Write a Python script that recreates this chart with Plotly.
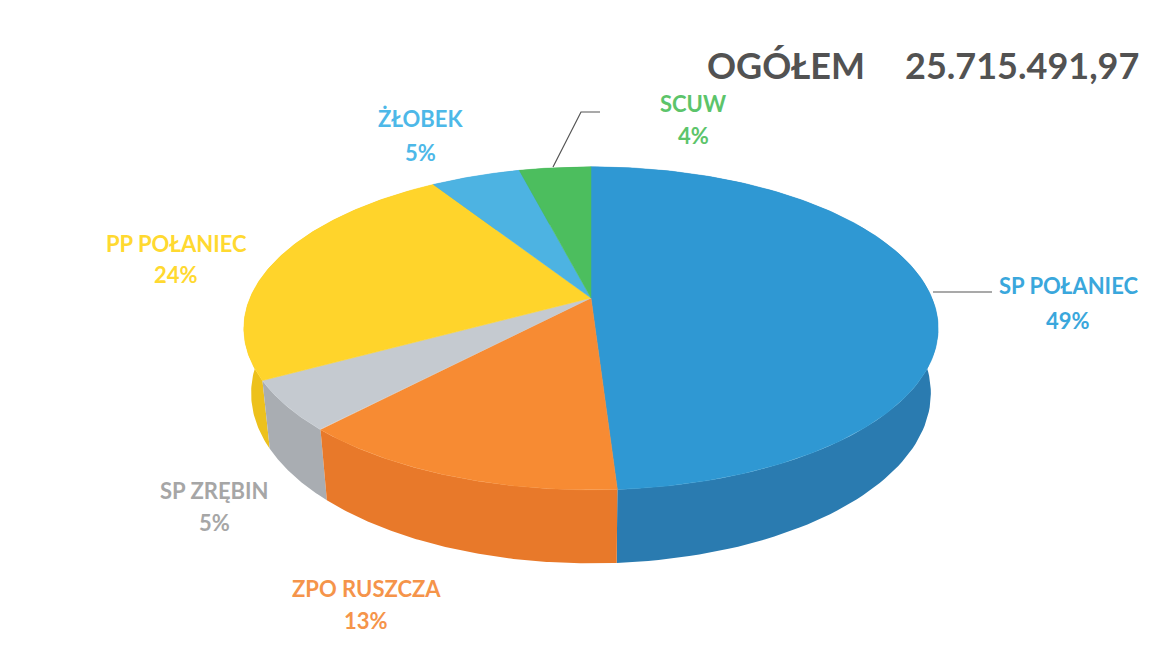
import numpy as np
import plotly.graph_objects as go

# ---- data ----
categories = ["SP POŁANIEC", "ZPO RUSZCZA", "SP ZRĘBIN", "PP POŁANIEC", "ŻŁOBEK", "SCUW"]
percents = [49, 13, 5, 24, 5, 4]
total_label = "OGÓŁEM"
total_value = "25.715.491,97"

# ---- styles ----
top_colors = ["#2F98D3", "#F78B33", "#C5CAD0", "#FFD42B", "#4DB3E2", "#4CBE5E"]
side_colors = ["#2A7BB0", "#E8792A", "#A9ADB2", "#EDC11C", "#3A98C6", "#3DA14E"]
text_colors = ["#3AA7DC", "#F5944A", "#A6A6A6", "#FFD930", "#4DB8E8", "#5CC46A"]
label_pos = [(1068, 285, 320), (366, 588, 620), (214, 490, 522),
             (176, 243, 274), (420, 118, 152), (693, 103, 135)]

W, H = 1157, 659
cx, cy = 591, 298          # screen position of pie centre (top face)
S = 341                    # radius scale in px
s_t, c_t = 0.457, 0.889    # sin/cos of tilt
dcam = 4.73                # camera distance
hgt = 0.215                # pie thickness


def proj(a, r, z):
    x = r * np.sin(a)
    y = -r * np.cos(a)
    w = y * c_t + z * s_t
    f = dcam / (dcam - w)
    return cx + S * x * f, cy + S * (y * s_t - z * c_t) * f


vals = np.array(percents, dtype=float)
cum = np.concatenate([[0], np.cumsum(vals)]) / vals.sum() * 2 * np.pi

fig = go.Figure()

# side walls, back to front
order = sorted(range(len(vals)), key=lambda i: -np.cos((cum[i] + cum[i + 1]) / 2))
for i in order:
    a = np.linspace(cum[i], cum[i + 1], 120)
    xt, yt = proj(a, 1.0, 0.0)
    xb, yb = proj(a[::-1], 1.0, -hgt)
    fig.add_trace(go.Scatter(
        x=np.concatenate([xt, xb]), y=np.concatenate([yt, yb]),
        fill="toself", mode="lines", line=dict(width=0, color=side_colors[i]),
        fillcolor=side_colors[i], hoverinfo="skip", showlegend=False))

# top faces
for i in range(len(vals)):
    a = np.linspace(cum[i], cum[i + 1], 160)
    xt, yt = proj(a, 1.0, 0.0)
    x0, y0 = proj(0.0, 0.0, 0.0)
    fig.add_trace(go.Scatter(
        x=np.concatenate([[x0], xt, [x0]]), y=np.concatenate([[y0], yt, [y0]]),
        fill="toself", mode="lines", line=dict(width=0.5, color=top_colors[i]),
        fillcolor=top_colors[i], name=categories[i],
        text=f"{categories[i]}: {percents[i]}%", hoverinfo="text", showlegend=False))

# labels
FONT = "Lato, Open Sans, sans-serif"
for i, (lx, ly1, ly2) in enumerate(label_pos):
    fig.add_annotation(x=lx, y=ly1, text=f"<b>{categories[i]}</b>", showarrow=False,
                       font=dict(family=FONT, size=22, color=text_colors[i]))
    fig.add_annotation(x=lx, y=ly2, text=f"<b>{percents[i]}%</b>", showarrow=False,
                       font=dict(family=FONT, size=22, color=text_colors[i]))

# leader lines
fig.add_shape(type="line", x0=933, y0=292, x1=992, y1=292, line=dict(color="#555555", width=1.2))
fig.add_shape(type="path", path="M 553 167 L 581 112 L 600 112", line=dict(color="#555555", width=1.2))

# title
fig.add_annotation(x=786, y=65, text=f"<b>{total_label}</b>", showarrow=False,
                   font=dict(family=FONT, size=36, color="#525252"))
fig.add_annotation(x=1022, y=65, text=f"<b>{total_value}</b>", showarrow=False,
                   font=dict(family=FONT, size=36, color="#525252"))

fig.update_layout(
    width=W, height=H, margin=dict(l=0, r=0, t=0, b=0),
    paper_bgcolor="white", plot_bgcolor="white",
    xaxis=dict(range=[0, W], visible=False, fixedrange=True),
    yaxis=dict(range=[H, 0], visible=False, fixedrange=True),
    showlegend=False,
)

fig.write_html("out.html", config={"displayModeBar": False},
               post_script="document.body.style.margin='0';document.body.style.overflow='hidden';")
